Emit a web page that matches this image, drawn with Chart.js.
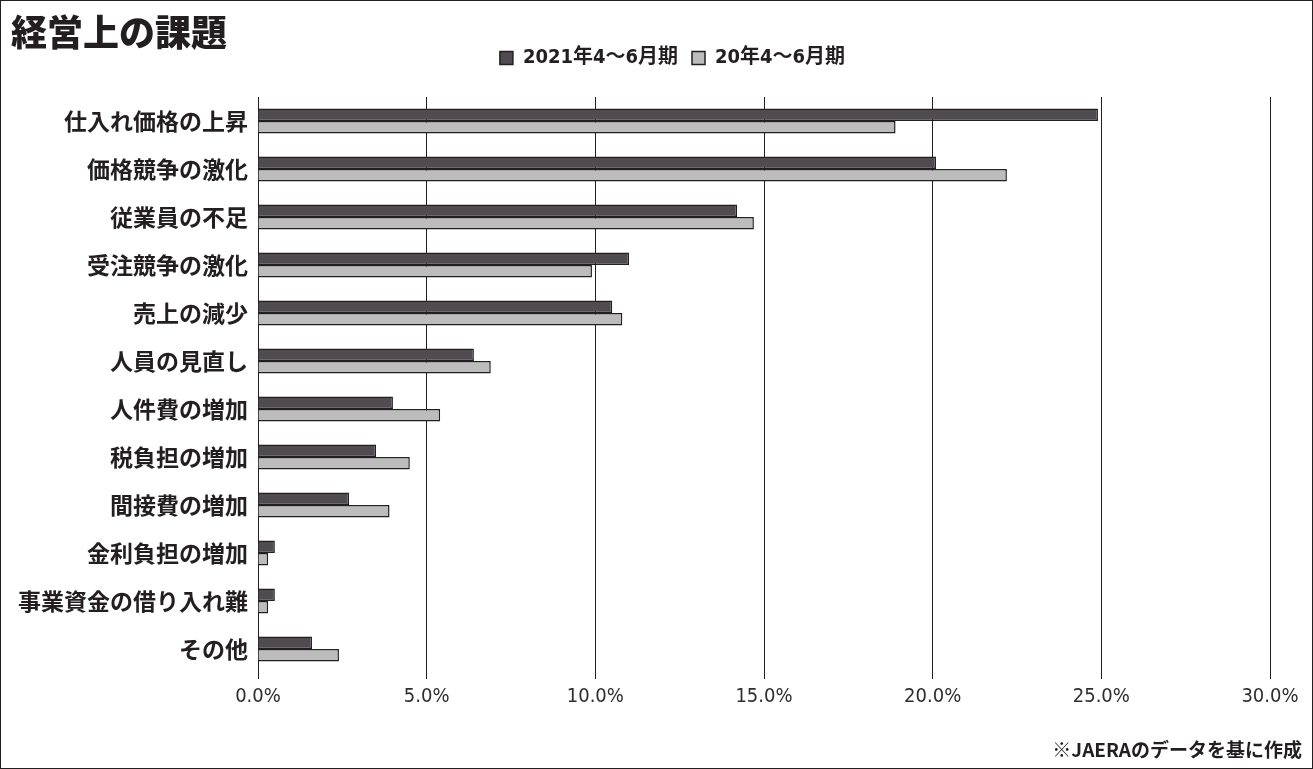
<!DOCTYPE html>
<html><head><meta charset="utf-8">
<script src="https://cdn.jsdelivr.net/npm/chart.js@4.4.1/dist/chart.umd.min.js"></script>
<style>
html,body{margin:0;padding:0;background:#fff;}
#wrap{position:relative;width:1313px;height:769px;box-sizing:border-box;border:1px solid #231f20;overflow:hidden;}
#title{position:absolute;left:10px;top:5px;font:900 36px 'Noto Sans CJK JP',sans-serif;color:#231f20;line-height:48px;}
#note{position:absolute;right:10px;top:735px;font:bold 19px 'Noto Sans CJK JP',sans-serif;color:#231f20;line-height:26px;}
#cv{position:absolute;left:0;top:0;}
</style></head>
<body>
<div id="wrap">
<canvas id="cv" width="1313" height="769"></canvas>
<div id="title">経営上の課題</div>
<div id="note">※JAERAのデータを基に作成</div>
</div>
<script>
const categories = ['仕入れ価格の上昇','価格競争の激化','従業員の不足','受注競争の激化','売上の減少','人員の見直し','人件費の増加','税負担の増加','間接費の増加','金利負担の増加','事業資金の借り入れ難','その他'];
const seriesNames = ['2021年4～6月期','20年4～6月期'];
const values2021 = [24.9, 20.1, 14.2, 11.0, 10.5, 6.4, 4.0, 3.5, 2.7, 0.5, 0.5, 1.6];
const values2020 = [18.9, 22.2, 14.7, 9.9, 10.8, 6.9, 5.4, 4.5, 3.9, 0.3, 0.3, 2.4];
const xTicks = [0, 5, 10, 15, 20, 25, 30];

const ink = '#231f20';
const narrow = "'DejaVu Sans Condensed','DejaVu Sans','Noto Sans CJK JP',sans-serif";
const legendTweak = {
  id: 'legendTweak',
  beforeInit(chart) {
    const orig = chart.legend.fit;
    chart.legend.fit = function () { orig.call(this); this.height += 19; };
  },
  afterLayout(chart) {
    chart.legend.left += 32;
    chart.legend.right += 32;
  }
};
new Chart(document.getElementById('cv'), {
  type: 'bar',
  data: {
    labels: categories,
    datasets: [
      {label: seriesNames[0], data: values2021, backgroundColor: '#4f4b50', borderColor: ink, borderWidth: 1.5, categoryPercentage: 0.52, barPercentage: 1.0},
      {label: seriesNames[1], data: values2020, backgroundColor: '#bcbcbc', borderColor: ink, borderWidth: 1.5, categoryPercentage: 0.52, barPercentage: 1.0}
    ]
  },
  plugins: [legendTweak],
  options: {
    indexAxis: 'y',
    responsive: false,
    animation: false,
    devicePixelRatio: 1,
    layout: {padding: {top: 33, left: 10, right: 44, bottom: 47}},
    plugins: {
      legend: {
        position: 'top',
        align: 'center',
        labels: {
          boxWidth: 13, boxHeight: 13, padding: 14, color: ink,
          font: {family: narrow, size: 20, weight: 'bold condensed'}
        }
      },
      tooltip: {enabled: false}
    },
    scales: {
      x: {
        min: 0, max: 30,
        afterBuildTicks: (s) => { s.ticks = xTicks.map(v => ({value: v})); },
        afterFit: (s) => { s.height = 50; },
        grid: {color: ink, lineWidth: 1, drawTicks: true, tickLength: 6, tickColor: ink},
        border: {display: false},
        ticks: {
          color: '#2e2e2e', padding: 6,
          font: {family: narrow, size: 20, weight: 'normal condensed'},
          callback: (v) => Number(v).toFixed(1) + '%'
        }
      },
      y: {
        afterFit: (s) => { s.width = 247; },
        grid: {display: false, drawTicks: false},
        border: {display: false},
        ticks: {
          color: ink, padding: 10,
          font: {family: "'Noto Sans CJK JP',sans-serif", size: 23, weight: 'bold'}
        }
      }
    }
  }
});
</script>
</body></html>
